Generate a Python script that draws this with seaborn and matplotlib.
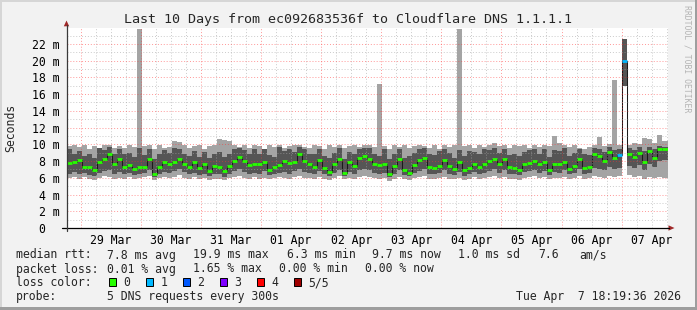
import matplotlib
matplotlib.use("Agg")
import numpy as np
import pandas as pd
import matplotlib.pyplot as plt
import matplotlib.dates as mdates
import matplotlib.ticker as mticker
from matplotlib.patches import Rectangle, Polygon
from matplotlib.lines import Line2D
import seaborn as sns

# ---------------- data ----------------
TITLE = "Last 10 Days from ec092683536f to Cloudflare DNS 1.1.1.1"
START = "2026-03-28 18:19:36"
END = "2026-04-07 18:19:36"
STEP = "2h"

# median rtt per 2h bin (ms)
median_ms = [
    7.8, 7.9, 8.1, 7.3, 7.3, 6.9, 7.9, 8.3, 8.9, 7.7, 8.3, 7.3, 7.5, 7.1, 7.3, 7.3, 8.3, 6.5, 7.3, 7.9,
    7.7, 7.9, 8.2, 7.6, 7.3, 7.9, 7.2, 7.7, 6.8, 7.4, 7.3, 6.8, 7.4, 8.0, 8.5, 8.0, 7.5, 7.7, 7.6, 7.9,
    6.9, 7.3, 7.5, 8.0, 7.8, 7.9, 8.9, 8.0, 7.7, 7.3, 8.1, 7.2, 6.7, 7.7, 8.3, 6.6, 7.9, 7.4, 8.4, 8.6,
    8.3, 7.7, 7.5, 7.6, 6.4, 7.4, 8.2, 6.9, 6.6, 7.5, 8.1, 8.4, 7.3, 7.2, 7.4, 8.1, 7.4, 7.0, 7.9, 6.9,
    7.2, 7.7, 7.3, 7.6, 8.0, 8.3, 7.6, 8.2, 7.3, 7.2, 6.9, 7.7, 7.8, 8.0, 7.6, 7.9, 6.9, 7.6, 7.6, 7.9,
    7.0, 7.4, 8.3, 7.2, 7.3, 8.9, 8.6, 8.0, 9.1, 8.4, 8.7, 19.9, 8.9, 8.5, 9.0, 7.9, 9.2, 8.4, 9.5, 9.5,
]
# smoke: lowest ping (light band bottom)
smoke_min = [
    6.0, 6.1, 5.9, 6.1, 5.8, 5.7, 6.0, 6.2, 6.1, 5.9, 6.0, 5.9, 6.1, 5.8, 6.0, 6.1, 6.2, 5.7, 6.0, 6.1,
    6.0, 6.1, 6.3, 6.0, 5.9, 6.1, 5.8, 6.0, 5.7, 5.9, 5.9, 5.7, 6.0, 6.1, 6.2, 6.0, 5.9, 6.1, 5.9, 6.0,
    5.8, 6.0, 6.1, 6.0, 5.9, 6.1, 6.2, 6.0, 6.0, 5.8, 6.1, 5.9, 5.7, 6.0, 6.2, 5.8, 6.0, 5.9, 6.1, 6.2,
    6.1, 6.0, 5.9, 6.0, 5.6, 5.9, 6.1, 5.8, 5.7, 6.0, 6.1, 6.2, 5.9, 5.8, 6.0, 6.1, 5.9, 5.8, 6.0, 5.7,
    5.9, 6.1, 5.9, 6.0, 6.1, 6.2, 6.0, 6.1, 5.9, 5.8, 5.7, 6.0, 6.1, 6.2, 6.0, 6.1, 5.8, 6.0, 6.0, 6.1,
    5.8, 6.0, 6.2, 5.9, 6.0, 6.2, 6.1, 6.0, 6.2, 6.1, 6.2, 17.0, 6.3, 6.1, 6.2, 5.9, 6.1, 6.0, 6.1, 6.0,
]
# smoke: 2nd ping (dark band bottom)
smoke_low = [
    6.5, 6.7, 6.4, 6.6, 6.3, 6.2, 6.6, 6.8, 6.9, 6.5, 6.7, 6.4, 6.6, 6.3, 6.5, 6.6, 6.9, 6.1, 6.5, 6.7,
    6.6, 6.8, 7.0, 6.7, 6.4, 6.6, 6.3, 6.5, 6.2, 6.5, 6.4, 6.1, 6.5, 6.8, 7.0, 6.7, 6.5, 6.6, 6.4, 6.8,
    6.3, 6.5, 6.6, 6.7, 6.5, 6.8, 7.1, 6.7, 6.6, 6.4, 6.8, 6.5, 6.2, 6.6, 6.9, 6.2, 6.7, 6.5, 6.9, 7.0,
    6.9, 6.6, 6.5, 6.6, 6.1, 6.5, 6.9, 6.3, 6.2, 6.6, 6.8, 7.0, 6.5, 6.4, 6.6, 6.9, 6.5, 6.3, 6.7, 6.2,
    6.5, 6.7, 6.5, 6.6, 6.8, 7.0, 6.6, 6.9, 6.5, 6.4, 6.3, 6.7, 6.8, 6.9, 6.6, 6.8, 6.3, 6.7, 6.6, 6.9,
    6.4, 6.6, 7.0, 6.5, 6.6, 7.2, 7.0, 6.9, 7.3, 7.1, 7.2, 17.0, 7.4, 7.2, 7.5, 6.9, 7.6, 7.3, 8.0, 8.1,
]
# smoke: 4th ping (dark band top)
smoke_high = [
    9.5, 8.9, 9.2, 8.6, 8.9, 8.4, 9.6, 9.3, 9.7, 8.8, 9.4, 8.8, 9.0, 8.5, 9.6, 8.7, 9.5, 8.3, 8.9, 9.3,
    9.0, 9.6, 9.4, 8.8, 8.6, 9.2, 8.5, 9.1, 8.4, 8.9, 9.1, 8.5, 8.8, 9.4, 9.6, 9.3, 8.9, 9.4, 8.8, 9.5,
    8.7, 8.5, 9.7, 9.2, 9.5, 9.1, 9.7, 9.4, 8.8, 8.9, 9.5, 8.6, 8.4, 9.0, 9.6, 8.3, 9.1, 8.9, 9.5, 9.6,
    9.6, 8.9, 8.6, 9.4, 8.2, 8.9, 9.5, 8.4, 8.6, 9.0, 9.5, 9.6, 8.8, 8.7, 9.2, 9.5, 9.0, 8.4, 9.3, 8.6,
    9.2, 9.1, 8.8, 9.4, 9.3, 9.6, 9.0, 9.5, 8.7, 8.9, 8.6, 9.1, 9.3, 9.4, 8.9, 9.5, 8.5, 9.3, 9.2, 9.6,
    8.6, 9.0, 9.5, 8.8, 8.7, 9.6, 9.4, 9.1, 9.7, 9.3, 9.4, 22.6, 9.6, 9.3, 9.7, 9.2, 9.7, 9.4, 9.8, 9.7,
]
# smoke: highest ping (light band top)
smoke_max = [
    9.8, 9.9, 9.7, 9.9, 9.4, 9.8, 9.5, 9.9, 9.9, 9.6, 9.8, 9.6, 9.9, 9.7, 23.8, 9.8, 9.9, 9.5, 9.9, 9.6,
    9.7, 10.4, 10.3, 9.9, 9.6, 9.8, 9.9, 9.5, 9.8, 9.9, 10.6, 10.5, 10.4, 9.9, 9.7, 9.9, 9.6, 9.9, 9.8, 9.5,
    9.9, 9.7, 9.9, 9.6, 9.8, 9.9, 9.9, 9.7, 9.6, 9.9, 9.8, 9.5, 9.9, 9.7, 9.9, 9.6, 9.8, 9.9, 9.7, 9.9,
    9.9, 9.7, 17.2, 9.8, 9.5, 9.9, 9.7, 9.9, 9.6, 9.8, 9.9, 9.8, 9.6, 9.9, 9.5, 9.9, 9.7, 9.9, 23.8, 9.8,
    9.9, 9.6, 9.9, 9.7, 9.9, 10.2, 9.8, 9.9, 9.6, 9.9, 9.8, 9.9, 9.6, 9.9, 9.7, 9.9, 9.8, 11.0, 10.1, 9.9,
    9.7, 9.9, 9.6, 9.5, 9.7, 9.9, 10.9, 9.8, 10.0, 17.7, 9.9, 22.6, 9.9, 10.2, 10.0, 10.8, 10.6, 10.2, 11.1, 10.4,
]
# lost pings per bin (out of 5)
loss_count = [0] * 110 + [1, 1] + [0] * 8

y_tick_values = [0, 2, 4, 6, 8, 10, 12, 14, 16, 18, 20, 22]
y_tick_labels = ["0  ", "2 m", "4 m", "6 m", "8 m", "10 m", "12 m", "14 m",
                 "16 m", "18 m", "20 m", "22 m"]
Y_LABEL = "Seconds"

loss_colors = ["#26ff00", "#00b8ff", "#0059ff", "#7e00ff", "#ff0000", "#a00000"]
loss_labels = ["0", "1", "2", "3", "4", "5/5"]

rtt_stats = ["7.8 ms avg", "19.9 ms max", "6.3 ms min", "9.7 ms now", "1.0 ms sd", "7.6", "am/s"]
loss_stats = ["0.01 % avg", "1.65 % max", "0.00 % min", "0.00 % now"]
PROBE = "5 DNS requests every 300s"
STAMP = "Tue Apr  7 18:19:36 2026"
WATERMARK = "RRDTOOL / TOBI OETIKER"

# ---------------- style ----------------
W, H = 697, 310
sns.set_style("white")
plt.rcParams["font.family"] = ["DejaVu Sans Mono"]
MONO = 8.3
BG = "#f2f2f2"
LIGHT = "#a4a4a4"
DARK = "#555555"

fig = plt.figure(figsize=(W / 100, H / 100), dpi=100)
fig.patch.set_facecolor(BG)

PL, PR, PT, PB = 66.5, 667.5, 28, 228
ax = fig.add_axes([PL / W, (H - PB) / H, (PR - PL) / W, (PB - PT) / H])
ax.set_facecolor("white")


def fx(x):
    return x / W


def fy(y):
    return 1 - y / H


edges = pd.date_range(START, periods=len(median_ms) + 1, freq=STEP)


def ext(v):
    return list(v) + [v[-1]]


ax.fill_between(edges, ext(smoke_min), ext(smoke_max), step="post",
                color=LIGHT, linewidth=0, zorder=1)
ax.fill_between(edges, ext(smoke_low), ext(smoke_high), step="post",
                color=DARK, linewidth=0, zorder=1.1)

df = pd.DataFrame({"t": edges, "median": ext(median_ms)})
sns.lineplot(data=df, x="t", y="median", estimator=None, drawstyle="steps-post",
             color="#1a1a1a", linewidth=0.75, ax=ax, zorder=2)
ax.hlines(median_ms, edges[:-1], edges[1:],
          colors=[loss_colors[c] for c in loss_count], linewidth=2.0, zorder=3)

ax.set_xlim(pd.Timestamp(START), pd.Timestamp(END))
ax.set_ylim(0, 23.9)

# grid
ax.xaxis.set_major_locator(mdates.DayLocator())
ax.xaxis.set_major_formatter(mticker.NullFormatter())
ax.xaxis.set_minor_locator(mdates.HourLocator(byhour=[6, 12, 18]))


def noon_fmt(v, pos):
    d = mdates.num2date(v)
    return d.strftime("%d %b") if d.hour == 12 else ""


ax.xaxis.set_minor_formatter(mticker.FuncFormatter(noon_fmt))
ax.set_yticks(y_tick_values)
ax.set_yticklabels(y_tick_labels)
ax.yaxis.set_minor_locator(mticker.MultipleLocator(1))

ax.set_axisbelow(False)
ax.grid(which="major", color="#ff3030", alpha=0.5, linestyle=(0, (1, 2)), linewidth=0.7)
ax.grid(which="minor", color="#a8a8a8", alpha=0.6, linestyle=(0, (1, 2)), linewidth=0.7)

ax.tick_params(axis="x", which="major", length=2.2, width=0.7, color="#e07070", direction="out")
ax.tick_params(axis="x", which="minor", length=0, pad=4.3, labelsize=MONO, labelcolor="black")
ax.tick_params(axis="y", which="major", length=2.2, width=0.7, color="#808080", pad=3,
               labelsize=MONO, labelcolor="black")
ax.tick_params(axis="y", which="minor", length=0)
ax.set_xlabel("")
ax.set_ylabel("")
for s in ax.spines.values():
    s.set_visible(False)

# axis lines and arrows (figure pixel coordinates)
AX_COL = "#3a3a3a"
ARROW = "#a02828"
fig.add_artist(Line2D([fx(62), fx(669)], [fy(PB), fy(PB)], color="black", lw=0.9))
fig.add_artist(Line2D([fx(PL), fx(PL)], [fy(231), fy(25)], color=AX_COL, lw=0.9))
fig.add_artist(Polygon([(fx(PL - 2.7), fy(26.3)), (fx(PL + 2.7), fy(26.3)), (fx(PL), fy(20.5))],
                       closed=True, color=ARROW, lw=0))
fig.add_artist(Polygon([(fx(668.5), fy(PB - 2.7)), (fx(668.5), fy(PB + 2.7)), (fx(674.5), fy(PB))],
                       closed=True, color=ARROW, lw=0))

# title and labels
fig.text(fx(347.5), fy(23.3), TITLE, ha="center", va="baseline", fontsize=9.6)
fig.text(fx(10.7), fy(128), Y_LABEL, rotation=90, ha="center", va="center", fontsize=MONO)
fig.text(fx(687), fy(59), WATERMARK, rotation=270, ha="center", va="center",
         fontsize=5.9, color="#b4b4b4")

# legend / stats
L1, L2, L3, L4 = 258.5, 272.5, 286.3, 300.3
fig.text(fx(16), fy(L1), "median rtt:", fontsize=MONO, va="baseline")
for s, x in zip(rtt_stats, [107.3, 193.3, 286.7, 372, 458.3, 538.3, 579.3]):
    fig.text(fx(x), fy(L1), s, fontsize=MONO, va="baseline")
fig.text(fx(16), fy(L2), "packet loss:", fontsize=MONO, va="baseline")
for s, x in zip(loss_stats, [107.3, 193.3, 279.3, 365]):
    fig.text(fx(x), fy(L2), s, fontsize=MONO, va="baseline")
fig.text(fx(16), fy(L3), "loss color:", fontsize=MONO, va="baseline")
for i, (c, lab) in enumerate(zip(loss_colors, loss_labels)):
    bx = 108.7 + 37 * i
    fig.add_artist(Rectangle((fx(bx), fy(286.3)), fx(7.7), 8 / H, facecolor=c,
                             edgecolor="black", lw=0.7))
    fig.text(fx(bx + 14.6), fy(L3), lab, fontsize=MONO, va="baseline")
fig.text(fx(16), fy(L4), "probe:", fontsize=MONO, va="baseline")
fig.text(fx(107.3), fy(L4), PROBE, fontsize=MONO, va="baseline")
fig.text(fx(680.5), fy(L4), STAMP, fontsize=MONO, va="baseline", ha="right")

# image border
fig.add_artist(Rectangle((0, fy(2)), 1, 2 / H, facecolor="#d6d6d6", lw=0))
fig.add_artist(Rectangle((0, 0), 2 / W, 1, facecolor="#d6d6d6", lw=0))
fig.add_artist(Rectangle((0, 0), 1, 3 / H, facecolor="#9e9e9e", lw=0))
fig.add_artist(Rectangle((fx(W - 2.5), 0), 2.5 / W, 1, facecolor="#9e9e9e", lw=0))

fig.savefig("out.png", dpi=100, facecolor=BG)
